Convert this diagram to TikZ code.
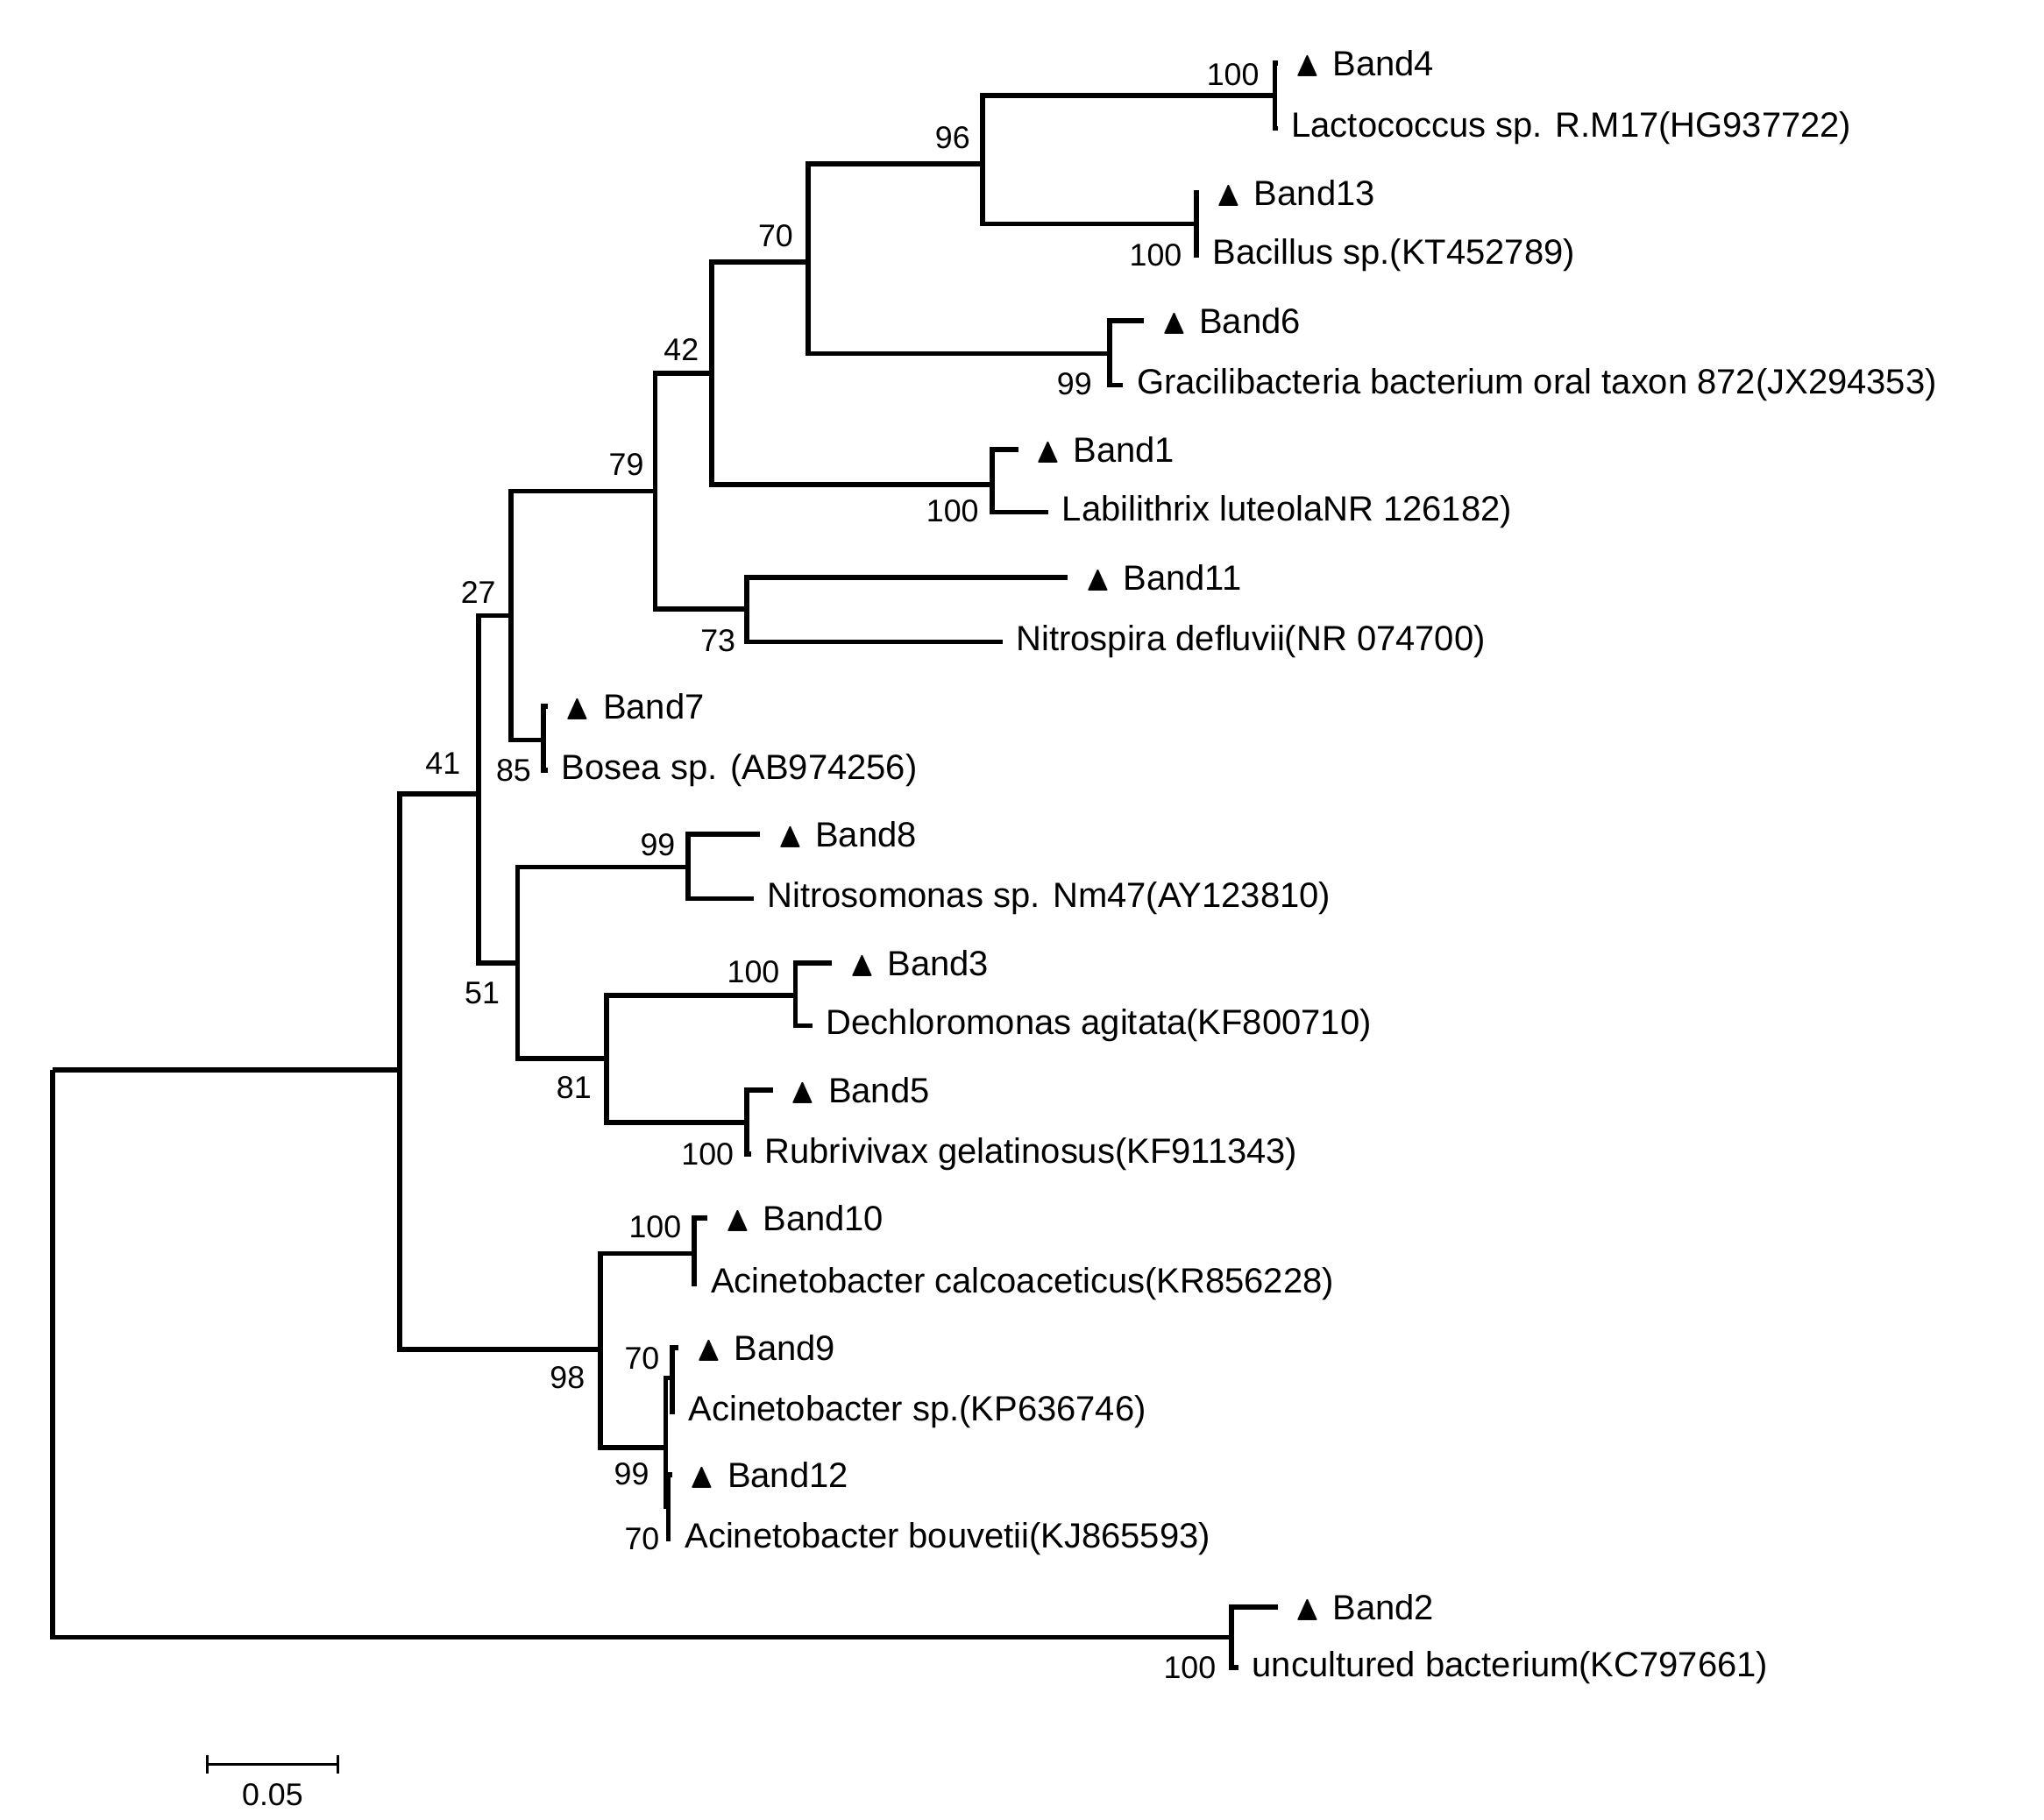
\documentclass[tikz,border=0pt]{standalone}
\usepackage{fontspec}
\usepackage{amssymb}
\setmainfont{Liberation Sans}
\begin{document}
\begin{tikzpicture}[x=0.01cm,y=-0.01cm,
  br/.style={line width=1.1pt},
  lf/.style={anchor=west,font=\fontsize{7.6}{9}\selectfont,inner sep=0pt},
  bs/.style={font=\fontsize{6.8}{8}\selectfont,inner sep=0pt}]
\useasboundingbox (0,0) rectangle (1560,1389);
% internal nodes
\coordinate (r) at (40,817);
\coordinate (n41) at (305,817);
\coordinate (n2) at (940,1250);
\coordinate (n51) at (365,606);
\coordinate (n98) at (458,1030);
\coordinate (n27) at (390,470);
\coordinate (nX) at (395,735);
\coordinate (n79) at (500,375);
\coordinate (n85) at (415,565);
\coordinate (n42) at (543,285);
\coordinate (n73) at (570,465);
\coordinate (n70) at (617,200);
\coordinate (nL) at (757,370);
\coordinate (n96) at (750,125);
\coordinate (n99g) at (847,270);
\coordinate (n100a) at (973,73);
\coordinate (n100b) at (913,171);
\coordinate (n99n) at (525,662);
\coordinate (n81) at (463,808);
\coordinate (n100c) at (607,760);
\coordinate (n100d) at (570,857);
\coordinate (n100e) at (530,957);
\coordinate (n99a) at (508,1105);
\coordinate (n70a) at (513,1052);
\coordinate (n70b) at (510,1150);
% leaves
\coordinate (B4) at (975,48);   \coordinate (Lac) at (975,98);
\coordinate (B13) at (915,147); \coordinate (Bac) at (915,195);
\coordinate (B6) at (873,245);  \coordinate (Gra) at (857,294);
\coordinate (B1) at (777,343);  \coordinate (Lab) at (800,391);
\coordinate (B11) at (815,441); \coordinate (Nsp) at (765,490);
\coordinate (B7) at (418,539);  \coordinate (Bos) at (418,588);
\coordinate (B8) at (580,637);  \coordinate (Nso) at (575,686);
\coordinate (B3) at (635,735);  \coordinate (Dec) at (620,783);
\coordinate (B5) at (590,832);  \coordinate (Rub) at (573,881);
\coordinate (B10) at (540,930); \coordinate (Cal) at (532,980);
\coordinate (B9) at (518,1029); \coordinate (Asp) at (515,1078);
\coordinate (B12) at (513,1126);\coordinate (Bou) at (512,1175);
\coordinate (B2) at (975,1227); \coordinate (Unc) at (945,1273);
% edges
\foreach \p/\c in {r/n41,r/n2,n2/B2,n2/Unc,n41/n51,n41/n98,n51/n27,n51/nX,
  n27/n79,n27/n85,n79/n42,n79/n73,n42/n70,n42/nL,n70/n96,n70/n99g,
  n96/n100a,n96/n100b,n100a/B4,n100a/Lac,n100b/B13,n100b/Bac,n99g/B6,n99g/Gra,
  nL/B1,nL/Lab,n73/B11,n73/Nsp,n85/B7,n85/Bos,nX/n99n,nX/n81,n99n/B8,n99n/Nso,
  n81/n100c,n81/n100d,n100c/B3,n100c/Dec,n100d/B5,n100d/Rub,
  n98/n100e,n98/n99a,n100e/B10,n100e/Cal,n99a/n70a,n99a/n70b,n70a/B9,n70a/Asp,n70b/B12,n70b/Bou}
  \draw[br] (\p) |- (\c);
% leaf labels
\foreach \l/\t in {B4/Band4,B13/Band13,B6/Band6,B1/Band1,B11/Band11,B7/Band7,B8/Band8,B3/Band3,B5/Band5,B10/Band10,B9/Band9,B12/Band12,B2/Band2}
  \node[lf] at ([xshift=0.12cm]\l) {$\blacktriangle$\,\,\t};
\node[lf] at ([xshift=0.1cm]Lac) {Lactococcus sp. R.M17(HG937722)};
\node[lf] at ([xshift=0.1cm]Bac) {Bacillus sp.(KT452789)};
\node[lf] at ([xshift=0.1cm]Gra) {Gracilibacteria bacterium oral taxon 872(JX294353)};
\node[lf] at ([xshift=0.1cm]Lab) {Labilithrix luteolaNR 126182)};
\node[lf] at ([xshift=0.1cm]Nsp) {Nitrospira defluvii(NR 074700)};
\node[lf] at ([xshift=0.1cm]Bos) {Bosea sp. (AB974256)};
\node[lf] at ([xshift=0.1cm]Nso) {Nitrosomonas sp. Nm47(AY123810)};
\node[lf] at ([xshift=0.1cm]Dec) {Dechloromonas agitata(KF800710)};
\node[lf] at ([xshift=0.1cm]Rub) {Rubrivivax gelatinosus(KF911343)};
\node[lf] at ([xshift=0.1cm]Cal) {Acinetobacter calcoaceticus(KR856228)};
\node[lf] at ([xshift=0.1cm]Asp) {Acinetobacter sp.(KP636746)};
\node[lf] at ([xshift=0.1cm]Bou) {Acinetobacter bouvetii(KJ865593)};
\node[lf] at ([xshift=0.1cm]Unc) {uncultured bacterium(KC797661)};
% bootstrap
\node[bs] (s1) at (941,57) {100};
\node[bs] (s2) at (727,105) {96};
\node[bs] (s3) at (882,195) {100};
\node[bs] (s4) at (592,180) {70};
\node[bs] (s5) at (820,293) {99};
\node[bs] (s6) at (520,267) {42};
\node[bs] (s7) at (727,390) {100};
\node[bs] (s8) at (478,355) {79};
\node[bs] (s9) at (548,489) {73};
\node[bs] (s10) at (365,452) {27};
\node[bs] (s11) at (392,588) {85};
\node[bs] (s12) at (338,583) {41};
\node[bs] (s13) at (502,645) {99};
\node[bs] (s14) at (575,742) {100};
\node[bs] (s15) at (368,758) {51};
\node[bs] (s16) at (438,830) {81};
\node[bs] (s17) at (540,881) {100};
\node[bs] (s18) at (500,937) {100};
\node[bs] (s19) at (490,1037) {70};
\node[bs] (s20) at (433,1052) {98};
\node[bs] (s21) at (482,1125) {99};
\node[bs] (s22) at (490,1175) {70};
\node[bs] (s23) at (908,1273) {100};
% scale bar
\coordinate (sa) at (158,1347); \coordinate (sb) at (258,1347);
\draw[line width=0.6pt] (sa) -- (sb);
\draw[line width=0.6pt] ([yshift=0.07cm]sa) -- ([yshift=-0.07cm]sa);
\draw[line width=0.6pt] ([yshift=0.07cm]sb) -- ([yshift=-0.07cm]sb);
\node[bs] (sl) at (208,1370) {0.05};
\end{tikzpicture}
\end{document}
